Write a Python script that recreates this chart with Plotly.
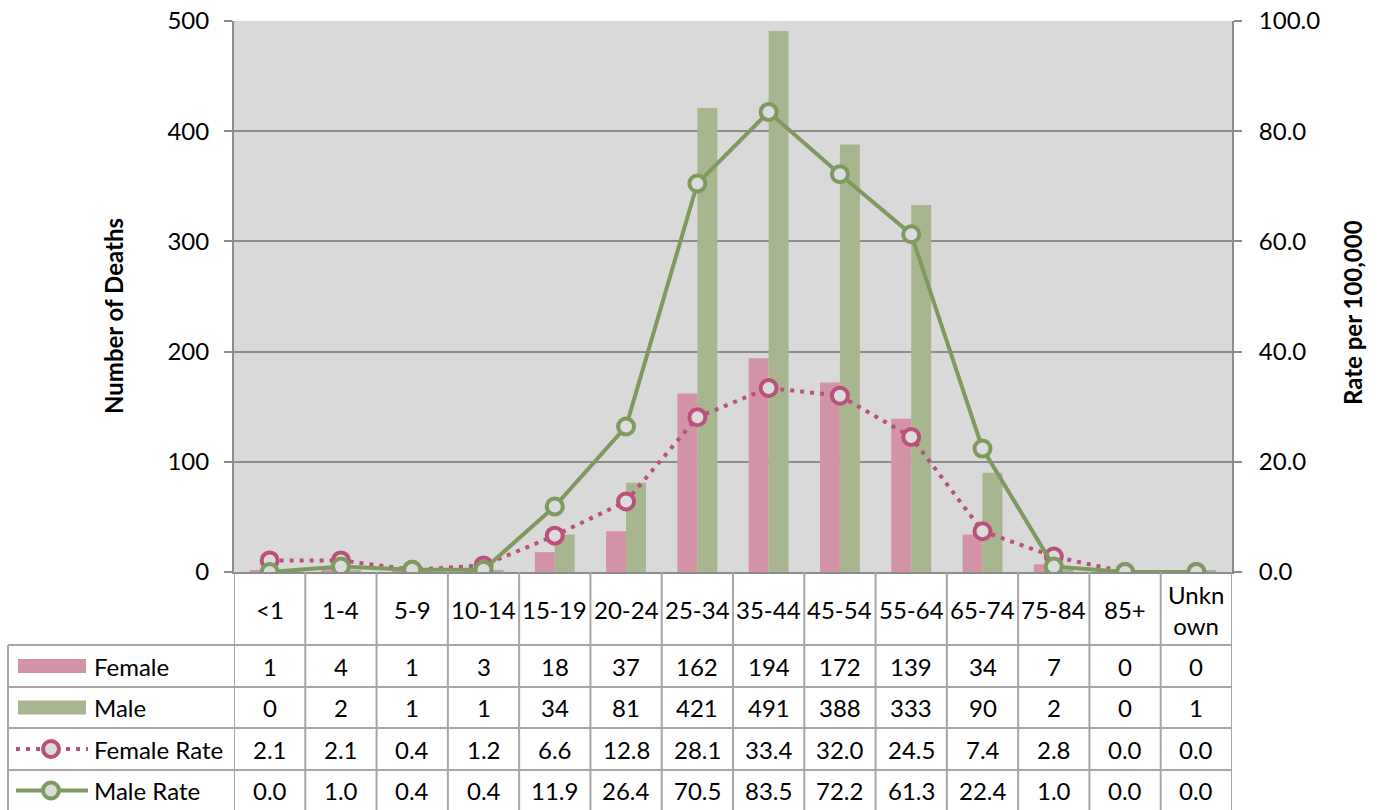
import plotly.graph_objects as go

age_groups = ["<1", "1-4", "5-9", "10-14", "15-19", "20-24", "25-34", "35-44",
              "45-54", "55-64", "65-74", "75-84", "85+", "Unknown"]
age_labels = ["<1", "1-4", "5-9", "10-14", "15-19", "20-24", "25-34", "35-44",
              "45-54", "55-64", "65-74", "75-84", "85+", "Unkn<br>own"]
female_deaths = [1, 4, 1, 3, 18, 37, 162, 194, 172, 139, 34, 7, 0, 0]
male_deaths = [0, 2, 1, 1, 34, 81, 421, 491, 388, 333, 90, 2, 0, 1]
female_rate = [2.1, 2.1, 0.4, 1.2, 6.6, 12.8, 28.1, 33.4, 32.0, 24.5, 7.4, 2.8, 0.0, 0.0]
male_rate = [0.0, 1.0, 0.4, 0.4, 11.9, 26.4, 70.5, 83.5, 72.2, 61.3, 22.4, 1.0, 0.0, 0.0]

W, H = 1377, 810
FONT = "Lato"
FS = 24
PINK_BAR = "#d393a7"
GREEN_BAR = "#a8b68f"
PINK_LINE = "#b9517a"
GREEN_LINE = "#7f9a5f"
GRID = "#8c8c8c"
TABLE = "#a6a6a6"
MARKER_FILL = "#dcdcdc"
DOTS = "4px,6px"


def px(x):
    """screen pixel x -> paper"""
    return x / W


def py(y):
    """screen pixel y -> paper"""
    return 1 - y / H


plot_left, plot_right, plot_top, plot_bottom = 234, 1232, 21, 572
row_edges = [572, 645, 687, 728, 770, 811]

fig = go.Figure()

fig.add_trace(go.Bar(name="Female", x=age_groups, y=female_deaths,
                     marker=dict(color=PINK_BAR, line=dict(width=0))))
fig.add_trace(go.Bar(name="Male", x=age_groups, y=male_deaths,
                     marker=dict(color=GREEN_BAR, line=dict(width=0))))
fig.add_trace(go.Scatter(name="Female Rate", x=age_groups, y=female_rate, yaxis="y2",
                         mode="lines+markers",
                         line=dict(color=PINK_LINE, width=4, dash=DOTS),
                         marker=dict(size=16, color=MARKER_FILL,
                                     line=dict(color=PINK_LINE, width=4))))
fig.add_trace(go.Scatter(name="Male Rate", x=age_groups, y=male_rate, yaxis="y2",
                         mode="lines+markers",
                         line=dict(color=GREEN_LINE, width=4),
                         marker=dict(size=16, color=MARKER_FILL,
                                     line=dict(color=GREEN_LINE, width=4))))

shapes = []
annotations = []

# vertical table lines at category boundaries
for i in range(len(age_groups) + 1):
    shapes.append(dict(type="line", xref="x", yref="paper", x0=i - 0.5, x1=i - 0.5,
                       y0=py(plot_bottom), y1=py(812), line=dict(color=TABLE, width=2)))
# left border of legend column
shapes.append(dict(type="line", xref="paper", yref="paper", x0=px(8), x1=px(8),
                   y0=py(row_edges[1]), y1=py(812), line=dict(color=TABLE, width=2)))
# horizontal table lines
for ye in row_edges[1:]:
    shapes.append(dict(type="line", xref="paper", yref="paper", x0=px(8), x1=px(plot_right),
                       y0=py(ye), y1=py(ye), line=dict(color=TABLE, width=2)))

txt_font = dict(size=FS, family=FONT, color="black")

# header row: category labels
head_mid = (row_edges[0] + row_edges[1]) / 2
for i, lab in enumerate(age_labels):
    annotations.append(dict(xref="x", yref="paper", x=i, y=py(head_mid + 1), text=lab,
                            xanchor="center", yanchor="middle", showarrow=False,
                            font=txt_font))

rows = [
    ("Female", [str(v) for v in female_deaths]),
    ("Male", [str(v) for v in male_deaths]),
    ("Female Rate", [f"{v:.1f}" for v in female_rate]),
    ("Male Rate", [f"{v:.1f}" for v in male_rate]),
]
key_mid = []
for r, (name, vals) in enumerate(rows):
    mid = (row_edges[r + 1] + row_edges[r + 2]) / 2
    key_mid.append(mid)
    annotations.append(dict(xref="paper", yref="paper", x=px(92), y=py(mid), text=name,
                            xanchor="left", yanchor="middle", showarrow=False,
                            font=txt_font))
    for i, v in enumerate(vals):
        annotations.append(dict(xref="x", yref="paper", x=i, y=py(mid), text=v,
                                xanchor="center", yanchor="middle", showarrow=False,
                                font=txt_font))

# legend keys inside the table
for k, col in ((0, PINK_BAR), (1, GREEN_BAR)):
    shapes.append(dict(type="rect", xref="paper", yref="paper", x0=px(18), x1=px(86),
                       y0=py(key_mid[k] + 7), y1=py(key_mid[k] - 7),
                       fillcolor=col, line=dict(width=0)))
shapes.append(dict(type="line", xref="paper", yref="paper", x0=px(16), x1=px(88),
                   y0=py(key_mid[2]), y1=py(key_mid[2]),
                   line=dict(color=PINK_LINE, width=4, dash=DOTS)))
shapes.append(dict(type="line", xref="paper", yref="paper", x0=px(16), x1=px(88),
                   y0=py(key_mid[3]), y1=py(key_mid[3]),
                   line=dict(color=GREEN_LINE, width=4)))
for k, col in ((2, PINK_LINE), (3, GREEN_LINE)):
    shapes.append(dict(type="circle", xref="paper", yref="paper",
                       x0=px(51 - 8), x1=px(51 + 8),
                       y0=py(key_mid[k] + 8), y1=py(key_mid[k] - 8),
                       fillcolor=MARKER_FILL, line=dict(color=col, width=4)))

# axis titles
annotations.append(dict(xref="paper", yref="paper", x=px(113), y=py(316),
                        text="<b>Number of Deaths</b>", textangle=-90, showarrow=False,
                        xanchor="center", yanchor="middle",
                        font=dict(size=FS, family=FONT, color="black")))
annotations.append(dict(xref="paper", yref="paper", x=px(1352), y=py(313),
                        text="<b>Rate per 100,000</b>", textangle=-90, showarrow=False,
                        xanchor="center", yanchor="middle",
                        font=dict(size=FS, family=FONT, color="black")))

fig.update_layout(
    width=W, height=H,
    margin=dict(l=0, r=0, t=0, b=0),
    paper_bgcolor="white",
    plot_bgcolor="#d9d9d9",
    showlegend=False,
    barmode="group",
    bargap=0.44,
    bargroupgap=0,
    font=dict(family=FONT, size=FS, color="black"),
    xaxis=dict(domain=[px(plot_left), px(plot_right)], range=[-0.5, 13.5],
               showticklabels=False, ticks="", showgrid=False, zeroline=False,
               showline=True, linecolor=GRID, linewidth=2, automargin=False,
               type="category"),
    yaxis=dict(domain=[py(plot_bottom), py(plot_top)], range=[0, 500], dtick=100,
               ticks="outside", ticklen=8, tickcolor=GRID, tickwidth=2,
               showgrid=True, gridcolor=GRID, gridwidth=2, zeroline=False,
               showline=True, linecolor=GRID, linewidth=2, automargin=False,
               ticklabelstandoff=10, ticklabeloverflow="allow", tickfont=txt_font),
    yaxis2=dict(overlaying="y", side="right", range=[0, 100], dtick=20, tickformat=".1f",
                ticks="outside", ticklen=8, tickcolor=GRID, tickwidth=2,
                showgrid=False, zeroline=False, showline=True, linecolor=GRID, linewidth=2,
                automargin=False, ticklabelstandoff=12, ticklabeloverflow="allow",
                tickfont=txt_font),
    shapes=shapes,
    annotations=annotations,
)

# drop the default body margin so the figure sits at the window's corner
fig.write_html("out.html", config={"displayModeBar": False},
               post_script="document.body.style.margin = '0';")
